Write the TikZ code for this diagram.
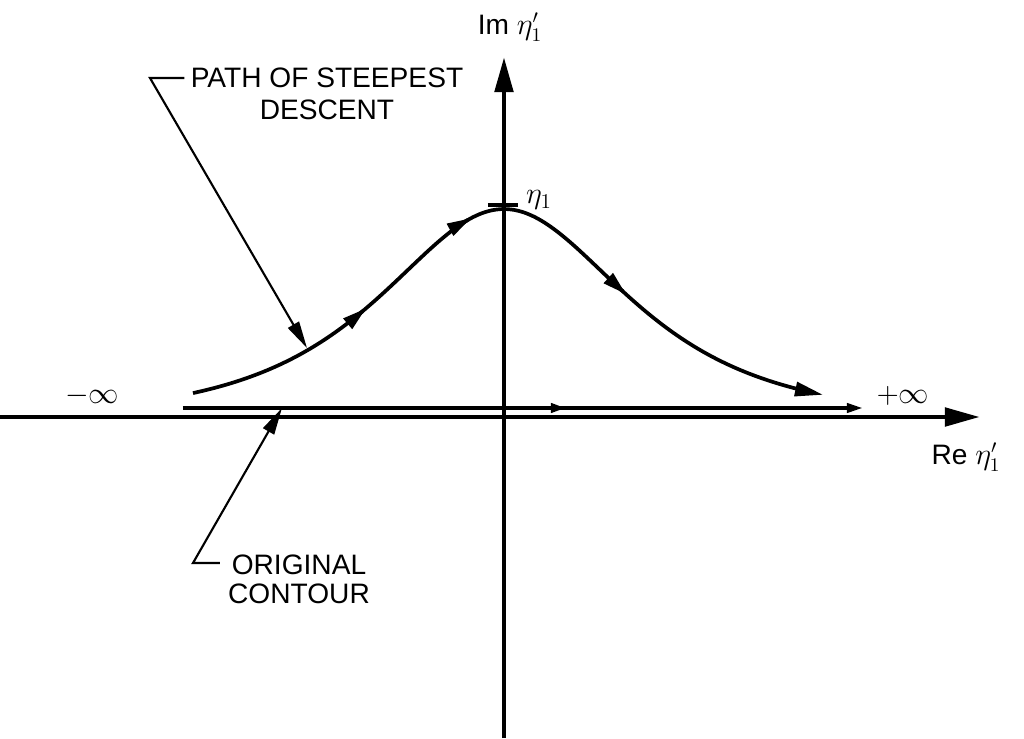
\documentclass[tikz,border=0pt]{standalone}
\usepackage{fontspec}
\setmainfont{Liberation Sans}
\usetikzlibrary{arrows.meta}
\tikzset{axis/.style={line width=2.8pt, -{Triangle[length=7mm, width=3.6mm]}},
  route/.style={line width=2.1pt},
  leader/.style={line width=1.2pt, -{Triangle[length=5.4mm, width=2.5mm]}},
  lettering/.style={font=\fontsize{16}{18}\selectfont, align=center, inner sep=0pt},
  midtip/.style={line width=2.1pt, -{Triangle[length=4.8mm, width=2.6mm]}}}
% height of the descent path above the real axis
\newcommand{\bell}[1]{416/(exp((#1)/109)+exp(-(#1)/109))}

\begin{document}
\begin{tikzpicture}[x=0.2mm, y=0.2mm]
  \useasboundingbox (-504,-321) rectangle (520,417);
  % axes
  \coordinate (xl) at (-504,0);
  \coordinate (xr) at (476,0);
  \coordinate (yb) at (0,-321);
  \coordinate (yt) at (0,360);
  \draw[axis] (xl) -- (xr);
  \draw[axis] (yb) -- (yt);
  \node[lettering] (im) at (6,390) {Im $\eta'_1$};
  \node[lettering] (re) at (462,-40) {Re $\eta'_1$};
  \node[lettering, font=\fontsize{17}{18}\selectfont] (minf) at (-412,21) {$-\infty$};
  \node[lettering, font=\fontsize{17}{18}\selectfont] (pinf) at (399,21) {$+\infty$};
  % original contour
  \coordinate (c0) at (-321,9);
  \coordinate (cm) at (62,9);
  \coordinate (c1) at (359,9);
  \draw[route, -{Triangle[length=3.2mm, width=1.8mm]}] (c0) -- (c1);
  \draw[midtip, -{Triangle[length=3mm, width=1.8mm]}] (c0) -- (cm);
  % path of steepest descent
  \draw[route, -{Triangle[length=5.6mm, width=2.8mm]}]
    plot[domain=-311:319, samples=60, smooth] (\x, {\bell{\x}});
  \foreach \a in {-138,-33,122}
    \draw[midtip] plot[domain=\a-12:\a, samples=4, smooth] (\x, {\bell{\x}});
  \draw[route] (-16,212) -- (14,212);
  \node[lettering, font=\fontsize{18}{18}\selectfont] (eta) at (35,217) {$\eta_1$};
  % labels
  \node[lettering] (psd) at (-177,323) {PATH OF STEEPEST\\DESCENT};
  \node[lettering, font=\fontsize{16}{16.5}\selectfont] (oc) at (-205,-162) {ORIGINAL\\CONTOUR};
  \coordinate (k1) at (-354,339);
  \coordinate (t1) at (-197,69);
  \coordinate (k2) at (-311,-146);
  \coordinate (t2) at (-222,9);
  \draw[leader] ([xshift=-1.2mm]psd.west |- k1) -- (k1) -- (t1);
  \draw[leader] ([xshift=-1.6mm]oc.west |- k2) -- (k2) -- (t2);
\end{tikzpicture}
\end{document}
